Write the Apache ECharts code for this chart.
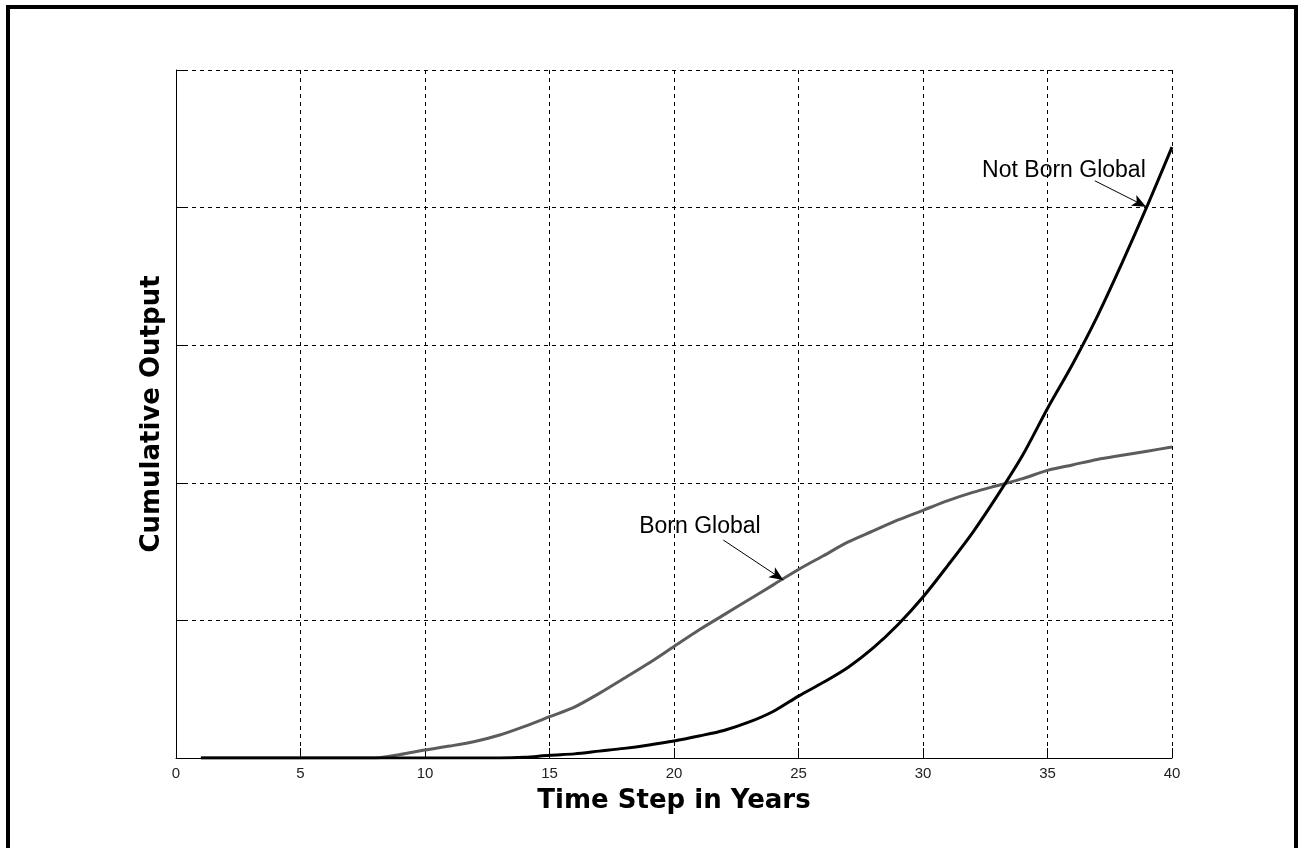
<!DOCTYPE html>
<html>
<head>
<meta charset="utf-8">
<script src="https://cdn.jsdelivr.net/npm/echarts@6/dist/echarts.min.js"></script>
<style>
  html, body { margin: 0; padding: 0; background: #fff; overflow: hidden; }
  #frame { position: absolute; left: 6px; top: 5px; width: 1284px; height: 860px; border: 4px solid #000; }
  #main { position: absolute; left: 0; top: 0; width: 1304px; height: 848px; }
</style>
</head>
<body>
<div id="frame"></div>
<div id="main"></div>
<script>
  // years on the x axis
  var years = [];
  for (var i = 1; i <= 40; i++) years.push(i);

  // values (arbitrary output units, grid step = 1)
  var bornGlobal = [0, 0, 0, 0, 0, 0, 0, 0, 0.025, 0.058,
    0.087, 0.12, 0.167, 0.23, 0.30, 0.37, 0.47, 0.58, 0.69, 0.81,
    0.93, 1.04, 1.15, 1.26, 1.37, 1.47, 1.57, 1.65, 1.73, 1.80,
    1.87, 1.93, 1.98, 2.03, 2.09, 2.13, 2.17, 2.20, 2.23, 2.26];

  var notBornGlobal = [0, 0, 0, 0, 0, 0, 0, 0, 0, 0,
    0, 0, 0, 0.005, 0.02, 0.03, 0.05, 0.07, 0.095, 0.124,
    0.16, 0.20, 0.26, 0.34, 0.45, 0.55, 0.66, 0.80, 0.97, 1.17,
    1.40, 1.64, 1.91, 2.20, 2.54, 2.86, 3.21, 3.60, 4.01, 4.44];

  var xTicks = [0, 5, 10, 15, 20, 25, 30, 35, 40];

  // annotation anchors in data coordinates
  var bgLabel = [21.04, 1.68];
  var bgArrow = [[21.98, 1.584], [24.39, 1.294]];
  var nbgLabel = [35.66, 4.27];
  var nbgArrow = [[36.9, 4.195], [38.96, 4.007]];

  function pairs(ys) {
    return years.map(function (x, i) { return [x, ys[i]]; });
  }

  function note(label, arrow) {
    return {
      markPoint: {
        symbol: 'circle',
        symbolSize: 1,
        itemStyle: { color: 'rgba(0,0,0,0)' },
        label: {
          show: true,
          position: 'inside',
          color: '#000',
          fontFamily: 'Liberation Sans, Arial, sans-serif',
          fontSize: 23,
          formatter: function (p) { return p.name; }
        },
        data: [{ name: label.name, coord: label.at }]
      },
      markLine: {
        silent: true,
        symbol: ['none', 'arrow'],
        symbolSize: [9, 14],
        label: { show: false },
        lineStyle: { color: '#000', width: 1, type: 'solid' },
        data: [[{ coord: arrow[0] }, { coord: arrow[1] }]]
      }
    };
  }

  var myChart = echarts.init(document.getElementById('main'));

  var bg = note({ name: 'Born Global', at: bgLabel }, bgArrow);
  var nbg = note({ name: 'Not Born Global', at: nbgLabel }, nbgArrow);

  var titleFont = { color: '#000', fontSize: 26, fontWeight: 'bold', fontFamily: 'DejaVu Sans, sans-serif' };

  var option = {
    animation: false,
    grid: { left: 176, right: 132, top: 70, bottom: 90 },
    xAxis: {
      type: 'value',
      min: 0,
      max: 40,
      interval: 5,
      name: 'Time Step in Years',
      nameLocation: 'middle',
      nameGap: 30,
      nameTextStyle: titleFont,
      axisLine: { lineStyle: { color: '#000', width: 1 } },
      axisTick: { inside: true, length: 10, lineStyle: { color: '#000' } },
      axisLabel: {
        color: '#222',
        fontSize: 15,
        margin: 8,
        fontFamily: 'Liberation Sans, Arial, sans-serif',
        customValues: xTicks
      },
      splitLine: { show: true, lineStyle: { color: '#000', type: [4, 4], width: 1 } }
    },
    yAxis: {
      type: 'value',
      min: 0,
      max: 5,
      interval: 1,
      name: 'Cumulative Output',
      nameLocation: 'middle',
      nameGap: 11,
      nameTextStyle: titleFont,
      axisLine: { show: true, lineStyle: { color: '#000', width: 1 } },
      axisTick: { show: true, inside: true, length: 10, lineStyle: { color: '#000' } },
      axisLabel: { show: false },
      splitLine: { show: true, lineStyle: { color: '#000', type: [4, 4], width: 1 } }
    },
    series: [
      {
        name: 'Born Global',
        type: 'line',
        data: pairs(bornGlobal),
        showSymbol: false,
        smooth: 0.3,
        lineStyle: { color: '#5c5c5c', width: 3 },
        markPoint: bg.markPoint,
        markLine: bg.markLine,
        z: 3
      },
      {
        name: 'Not Born Global',
        type: 'line',
        data: pairs(notBornGlobal),
        showSymbol: false,
        smooth: 0.3,
        lineStyle: { color: '#000', width: 3 },
        markPoint: nbg.markPoint,
        markLine: nbg.markLine,
        z: 4
      }
    ]
  };
  myChart.setOption(option);
</script>
</body>
</html>
